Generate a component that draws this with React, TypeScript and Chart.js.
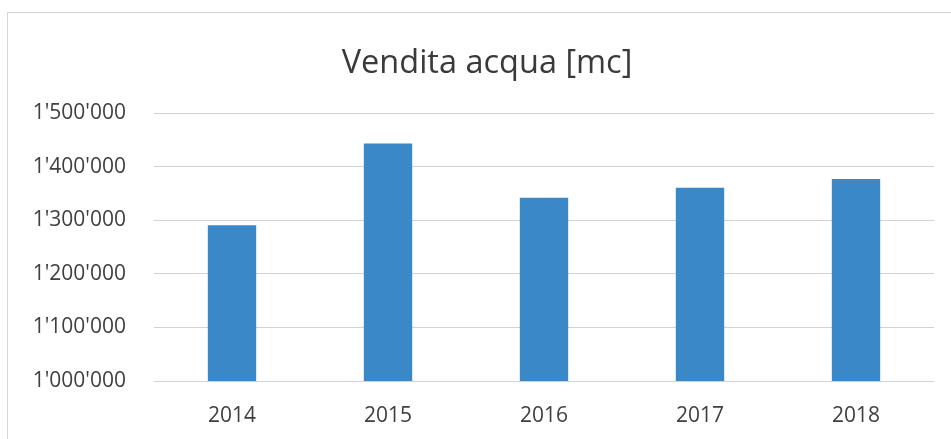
import React, { useEffect, useRef } from "react";
import { Chart, registerables } from "chart.js";

Chart.register(...registerables);

const title = "Vendita acqua [mc]";
const categories = ["2014", "2015", "2016", "2017", "2018"];
const values = [1290500, 1443000, 1342000, 1360500, 1377000];
const yMin = 1000000;
const yMax = 1500000;
const yStep = 100000;

const fmt = (v: number) => String(Math.round(v)).replace(/\B(?=(\d{3})+(?!\d))/g, "'");

const FONT = "'Open Sans', 'Liberation Sans', sans-serif";

const titlePlugin = {
  id: "offsetTitle",
  afterDraw(chart: any) {
    const ctx = chart.ctx;
    ctx.save();
    ctx.font = `normal 32.5px ${FONT}`;
    ctx.fillStyle = "#3a3a3a";
    ctx.textAlign = "center";
    ctx.textBaseline = "middle";
    ctx.fillText(title, 487, 64);
    ctx.restore();
  },
};

export default function App() {
  const ref = useRef<HTMLCanvasElement | null>(null);

  useEffect(() => {
    if (!ref.current) return;
    const chart = new Chart(ref.current, {
      type: "bar",
      data: {
        labels: categories,
        datasets: [
          {
            data: values,
            backgroundColor: "#3b88c8",
            borderWidth: 0,
            barPercentage: 0.31,
            categoryPercentage: 1.0,
          },
        ],
      },
      plugins: [titlePlugin],
      options: {
        responsive: false,
        animation: false,
        layout: { padding: { left: 0, right: 17, top: 113, bottom: 0 } },
        plugins: {
          legend: { display: false },
          tooltip: { enabled: false },
          title: { display: false },
        },
        scales: {
          x: {
            grid: { display: false },
            border: { display: false },
            ticks: {
              color: "#404040",
              font: { family: FONT, size: 21 },
              padding: 14,
              maxRotation: 0,
            },
            afterFit: (scale: any) => {
              scale.height = 58;
            },
          },
          y: {
            min: yMin,
            max: yMax,
            border: { display: false },
            grid: { color: "#d2d2d2", lineWidth: 1, drawTicks: false },
            ticks: {
              stepSize: yStep,
              color: "#404040",
              font: { family: FONT, size: 21 },
              padding: 28,
              callback: (v: any) => fmt(Number(v)),
            },
            afterFit: (scale: any) => {
              scale.width = 154;
            },
          },
        },
      },
    });
    return () => chart.destroy();
  }, []);

  return (
    <div
      style={{
        position: "fixed",
        left: 0,
        top: 0,
        width: 951,
        height: 439,
        background: "#ffffff",
        overflow: "hidden",
      }}
    >
      <div
        style={{
          position: "absolute",
          left: 7,
          top: 12,
          width: 960,
          height: 440,
          borderTop: "1px solid #d6d6d6",
          borderLeft: "1px solid #d6d6d6",
          pointerEvents: "none",
        }}
      />
      <canvas
        ref={ref}
        width={951}
        height={439}
        style={{ position: "absolute", left: 0, top: 0, width: 951, height: 439 }}
      />
    </div>
  );
}
